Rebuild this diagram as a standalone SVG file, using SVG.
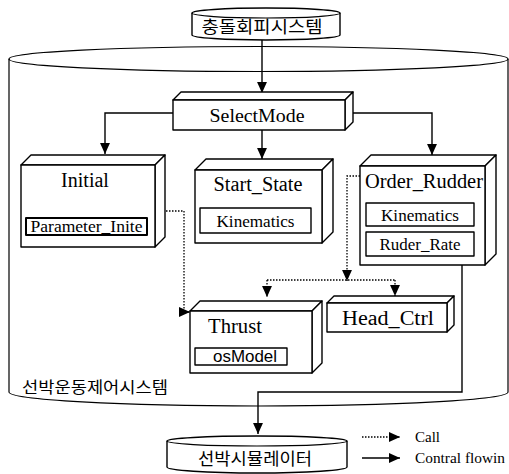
<svg xmlns="http://www.w3.org/2000/svg" width="509" height="474" viewBox="0 0 509 474">
<style>
.o{fill:#fff;stroke:#000;stroke-width:1.4;stroke-linejoin:round}
.ln{fill:none;stroke:#000;stroke-width:1.4}
.ol{fill:none;stroke:#000;stroke-width:1.2}
.dt{fill:none;stroke:#000;stroke-width:1.3;stroke-dasharray:1.5 1.5}
.s{font-family:"Liberation Serif","DejaVu Serif",serif;fill:#000}
.k{font-family:"Noto Sans CJK KR","Noto Sans",sans-serif;fill:#000}
.a{font-family:"Liberation Sans","DejaVu Sans",sans-serif;fill:#000}
</style>
<defs>
<marker id="ah" markerWidth="11" markerHeight="11" viewBox="0 0 10 10" refX="10" refY="5" orient="auto" markerUnits="userSpaceOnUse">
<path d="M0,0.5 L10,5 L0,9.5 Z" fill="#000"/>
</marker>
</defs>
<g id="sys-ship-control">
<path class="ol" d="M9,59 A249.5,12.5 0 0 1 508,59 L508,392 A249.5,14 0 0 1 9,392 Z"/>
<path class="ol" d="M9,59 A249.5,12.5 0 0 0 508,59"/>
<text class="k" x="22" y="393" font-size="16" textLength="146" lengthAdjust="spacingAndGlyphs">선박운동제어시스템</text>
</g>
<g id="sys-collision">
<path class="o" d="M192,13 A74,5 0 0 1 340,13 L340,35 A74,5 0 0 1 192,35 Z"/>
<path class="ol" d="M192,13 A74,5 0 0 0 340,13"/>
<text class="k" x="262" y="33" font-size="17" text-anchor="middle" textLength="121" lengthAdjust="spacingAndGlyphs">충돌회피시스템</text>
</g>
<g id="sys-simulator">
<path class="o" d="M167,441 A90,5 0 0 1 347,441 L347,467 A90,6 0 0 1 167,467 Z"/>
<path class="ol" d="M167,441 A90,5 0 0 0 347,441"/>
<text class="k" x="255" y="465" font-size="16.5" text-anchor="middle" textLength="114" lengthAdjust="spacingAndGlyphs">선박시뮬레이터</text>
</g>
<g id="connectors">
<path class="ln" d="M262,40 V93" marker-end="url(#ah)"/>
<path class="ln" d="M173,113 H105 V154" marker-end="url(#ah)"/>
<path class="ln" d="M262,130 V159" marker-end="url(#ah)"/>
<path class="ln" d="M353,113 H432 V155" marker-end="url(#ah)"/>
<path class="ln" d="M462,256 V392 H258 V434" marker-end="url(#ah)"/>
<path class="dt" d="M157,211 H184 V312 H190" marker-end="url(#ah)"/>
<path class="dt" d="M360,176 H347 V281" marker-end="url(#ah)"/>
<path class="dt" d="M267,280 H395"/>
<path class="dt" d="M267,280 V297" marker-end="url(#ah)"/>
<path class="dt" d="M395,280 V296" marker-end="url(#ah)"/>
</g>
<g id="node-selectmode">
<path class="o" d="M173,100 L181,92 L353,92 L345,100 Z"/>
<path class="o" d="M345,100 L353,92 L353,122 L345,130 Z"/>
<rect class="o" x="173" y="100" width="172" height="30"/>
<text class="s" x="257" y="122" font-size="19" text-anchor="middle" textLength="95" lengthAdjust="spacingAndGlyphs">SelectMode</text>
</g>
<g id="node-initial">
<path class="o" d="M21,165 L31,155 L165,155 L155,165 Z"/>
<path class="o" d="M155,165 L165,155 L165,237 L155,247 Z"/>
<rect class="o" x="21" y="165" width="134" height="82"/>
<text class="s" x="85" y="187" font-size="20" text-anchor="middle">Initial</text>
<rect class="o" x="26" y="218" width="121" height="17" style="stroke-width:2"/>
<text class="s" x="86.5" y="232" font-size="16" text-anchor="middle" textLength="112" lengthAdjust="spacingAndGlyphs">Parameter_Inite</text>
</g>
<g id="node-startstate">
<path class="o" d="M195,170 L206,159 L333,159 L322,170 Z"/>
<path class="o" d="M322,170 L333,159 L333,232 L322,243 Z"/>
<rect class="o" x="195" y="170" width="127" height="73"/>
<text class="s" x="258" y="191" font-size="20" text-anchor="middle" textLength="89" lengthAdjust="spacingAndGlyphs">Start_State</text>
<rect class="o" x="200" y="208" width="111" height="25"/>
<text class="s" x="255.5" y="227" font-size="17" text-anchor="middle" textLength="78" lengthAdjust="spacingAndGlyphs">Kinematics</text>
</g>
<g id="node-orderrudder">
<path class="o" d="M360,166 L371,155 L496,155 L485,166 Z"/>
<path class="o" d="M485,166 L496,155 L496,254 L485,265 Z"/>
<rect class="o" x="360" y="166" width="125" height="99"/>
<text class="s" x="424" y="188" font-size="20" text-anchor="middle" textLength="118" lengthAdjust="spacingAndGlyphs">Order_Rudder</text>
<rect class="o" x="366" y="203" width="108" height="23"/>
<text class="s" x="420" y="221" font-size="17" text-anchor="middle" textLength="78" lengthAdjust="spacingAndGlyphs">Kinematics</text>
<rect class="o" x="366" y="232" width="108" height="24"/>
<text class="s" x="420" y="250" font-size="17" text-anchor="middle" textLength="81" lengthAdjust="spacingAndGlyphs">Ruder_Rate</text>
</g>
<g id="node-thrust">
<path class="o" d="M190,311 L200,301 L322,301 L312,311 Z"/>
<path class="o" d="M312,311 L322,301 L322,363 L312,373 Z"/>
<rect class="o" x="190" y="311" width="122" height="62"/>
<text class="s" x="208" y="333" font-size="20" textLength="54" lengthAdjust="spacingAndGlyphs">Thrust</text>
<rect class="o" x="195" y="348" width="92" height="17"/>
<text class="a" x="245" y="362" font-size="16" text-anchor="middle" textLength="64" lengthAdjust="spacingAndGlyphs">osModel</text>
</g>
<g id="node-headctrl">
<path class="o" d="M327,303 L334,296 L454,296 L447,303 Z"/>
<path class="o" d="M447,303 L454,296 L454,325 L447,332 Z"/>
<rect class="o" x="327" y="303" width="120" height="29"/>
<text class="s" x="388" y="325" font-size="20" text-anchor="middle" textLength="92" lengthAdjust="spacingAndGlyphs">Head_Ctrl</text>
</g>
<g id="legend">
<path class="dt" d="M362,437 H400" marker-end="url(#ah)"/>
<path class="ln" d="M362,458 H400" marker-end="url(#ah)"/>
<text class="s" x="415" y="442" font-size="15">Call</text>
<text class="s" x="415" y="463" font-size="15" textLength="90" lengthAdjust="spacingAndGlyphs">Contral flowin</text>
</g>
</svg>
